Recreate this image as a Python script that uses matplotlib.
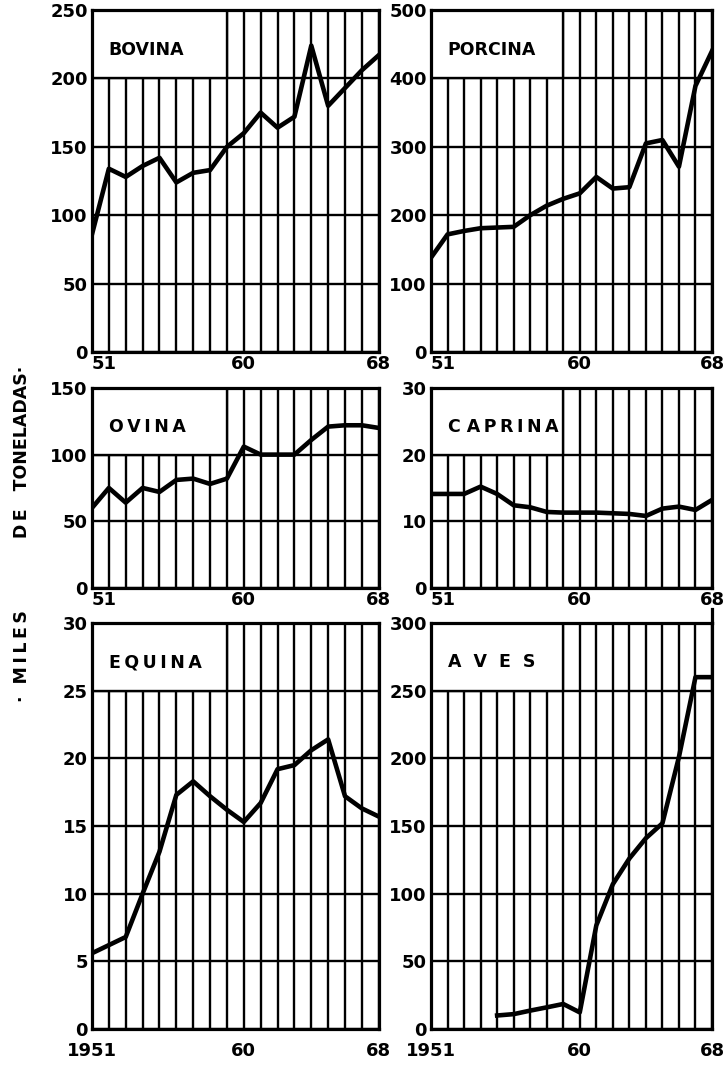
import numpy as np
import matplotlib
matplotlib.use("Agg")
import matplotlib.pyplot as plt
from matplotlib.patches import Rectangle

# produccion de carne por especie, miles de toneladas, 1951-1968
years = list(range(1951, 1969))

bovina = [86, 134, 128, 136, 142, 124, 131, 133, 150, 160, 175, 164, 172, 224, 180, 193, 206, 217]
porcina = [138, 172, 177, 181, 182, 183, 200, 214, 224, 232, 256, 239, 241, 305, 310, 271, 389, 440]
ovina = [60, 75, 64, 75, 72, 81, 82, 78, 82, 106, 100, 100, 100, 111, 121, 122, 122, 120]
caprina = [14.1, 14.1, 14.1, 15.2, 14.1, 12.4, 12.1, 11.4, 11.3, 11.3, 11.3, 11.2, 11.1, 10.8, 11.9, 12.2, 11.7, 13.2]
equina = [5.6, 6.2, 6.8, 10.0, 13.1, 17.3, 18.3, 17.2, 16.2, 15.3, 16.7, 19.2, 19.5, 20.6, 21.4, 17.2, 16.3, 15.7]
aves = [np.nan, np.nan, np.nan, np.nan, 10, 11, 13.6, 16, 18.5, 12.3, 76.5, 107, 126, 141, 152, 201, 260, 260]

T = "\u2009"  # thin space for letter spacing
titles = ["BOVINA", "PORCINA", T.join("OVINA"), "C " + T.join("APRINA"),
          T.join("EQUINA"), "A  V  E  S"]
series = [bovina, porcina, ovina, caprina, equina, aves]
ymax = [250, 500, 150, 30, 30, 300]
ystep = [50, 100, 50, 10, 5, 50]
box_frac = [0.2, 0.2, 1 / 3, 1 / 3, 1 / 6, 1 / 6]  # height of title box
xlabels_top = ["51", "60", "68"]
xlabels_bottom = ["1951", "60", "68"]
ylabel = "·  " + T.join("MILES") + " " * 12 + T.join("DE") + "   TONELADAS·"

plt.rcParams["font.family"] = "DejaVu Sans"
plt.rcParams["font.weight"] = "bold"

fig = plt.figure(figsize=(7.26, 10.69), dpi=100)

# axes rectangles in figure fraction [left, bottom, width, height]
cols = [(0.1267, 0.395), (0.5937, 0.387)]
rows = [(0.6707, 0.3199), (0.4500, 0.1871), (0.0374, 0.3798)]

for i in range(6):
    r, c = divmod(i, 2)
    ax = fig.add_axes([cols[c][0], rows[r][0], cols[c][1], rows[r][1]])
    ax.set_xlim(1951, 1968)
    ax.set_ylim(0, ymax[i])
    ax.set_yticks(np.arange(0, ymax[i] + 1, ystep[i]))
    ax.set_xticks(years, minor=True)
    ax.set_xticks([1951, 1960, 1968])
    ax.grid(True, which="both", axis="x", color="black", lw=1.7, zorder=1)
    ax.grid(True, which="major", axis="y", color="black", lw=1.7, zorder=1)
    ax.tick_params(which="both", length=0, labelsize=13, pad=3)

    if r < 2:
        labs = ax.set_xticklabels(xlabels_top)
        labs[0].set_horizontalalignment("left")
        ax.tick_params(axis="x", pad=2)
    else:
        ax.set_xticklabels(xlabels_bottom)
        ax.tick_params(axis="x", pad=9)

    for s in ax.spines.values():
        s.set_linewidth(2.3)
        s.set_zorder(5)

    # white box holding the species name
    bh = ymax[i] * box_frac[i]
    ax.add_patch(Rectangle((1951, ymax[i] - bh), 8, bh, facecolor="white",
                           edgecolor="black", lw=1.7, zorder=2))
    ax.text(1952, ymax[i] - bh * 0.58, titles[i], fontsize=12.5,
            fontweight="bold", va="center", ha="left", zorder=4)

    ax.plot(years, series[i], color="black", lw=3.3, zorder=3)

    if i == 5:
        ax.axvline(1968, ymin=1, ymax=1.035, color="black", lw=2.3, clip_on=False)

fig.text(0.030, 0.5005, ylabel, rotation=90, fontsize=12.5,
         fontweight="bold", va="center", ha="center")

fig.savefig("out.png", dpi=100)
